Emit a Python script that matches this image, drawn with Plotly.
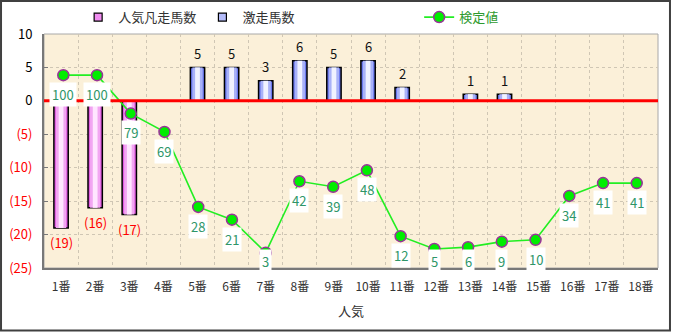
import plotly.graph_objects as go

categories = ["1番", "2番", "3番", "4番", "5番", "6番", "7番", "8番", "9番",
              "10番", "11番", "12番", "13番", "14番", "15番", "16番", "17番", "18番"]
popular_fail = [19, 16, 17, 0, 0, 0, 0, 0, 0, 0, 0, 0, 0, 0, 0, 0, 0, 0]
upset_count = [0, 0, 0, 0, 5, 5, 3, 6, 5, 6, 2, 0, 1, 1, 0, 0, 0, 0]
test_value = [100, 100, 79, 69, 28, 21, 3, 42, 39, 48, 12, 5, 6, 9, 10, 34, 41, 41]
ytick_vals = [10, 5, 0, -5, -10, -15, -20, -25]
ytick_text = ["10", "5", "0", "(5)", "(10)", "(15)", "(20)", "(25)"]

FONT = "Noto Sans CJK JP"
xs = list(range(1, len(categories) + 1))
neg_fail = [-v for v in popular_fail]

fig = go.Figure()

# pink bars (with gradient imitation)
for w, c, lw in [(0.42, "#E25CE2", 1.5), (0.30, "#F2A6F2", 0), (0.14, "#FFE6FF", 0)]:
    fig.add_trace(go.Bar(
        x=xs, y=neg_fail, width=w, name="人気凡走馬数",
        marker=dict(color=c, line=dict(color="#000000", width=lw)),
        showlegend=False, hoverinfo="skip" if lw == 0 else None))
# blue bars
for w, c, lw in [(0.42, "#6A78EE", 1.5), (0.30, "#A9B2F8", 0), (0.14, "#F0F2FF", 0)]:
    fig.add_trace(go.Bar(
        x=xs, y=upset_count, width=w, name="激走馬数",
        marker=dict(color=c, line=dict(color="#000000", width=lw)),
        showlegend=False, hoverinfo="skip" if lw == 0 else None))

# legend entries with small square symbols
fig.add_trace(go.Scatter(x=[None], y=[None], mode="markers", name="人気凡走馬数",
                         marker=dict(symbol="square", size=8, color="#F08CF0",
                                     line=dict(color="#000000", width=1.2)),
                         legend="legend"))
fig.add_trace(go.Scatter(x=[None], y=[None], mode="markers", name="激走馬数",
                         marker=dict(symbol="square", size=8, color="#B4BCFA",
                                     line=dict(color="#000000", width=1.2)),
                         legend="legend2"))

fig.add_trace(go.Scatter(
    x=xs, y=test_value, name="<span style='color:#2E9A2E'>検定値</span>",
    mode="lines+markers", xaxis="x2", yaxis="y2",
    line=dict(color="#22EE22", width=1.6),
    marker=dict(color="#00EE00", size=11, line=dict(color="#993399", width=1.5)),
    legend="legend3", cliponaxis=False))

annotations = []
for x, v in zip(xs, upset_count):
    if v:
        annotations.append(dict(x=x, y=v, xref="x", yref="y", text=str(v), showarrow=False,
                                yshift=14, font=dict(family=FONT, size=13, color="#111111")))
for x, v in zip(xs, popular_fail):
    if v:
        annotations.append(dict(x=x, y=-v, xref="x", yref="y", text=f"({v})", showarrow=False,
                                yshift=-15, font=dict(family=FONT, size=13, color="#FF0000")))
for x, v in zip(xs, test_value):
    ly = max(v - 10.6, -1.7)
    annotations.append(dict(x=x, y=ly, xref="x2", yref="y2", text=str(v), showarrow=False,
                            bgcolor="#FFFFFF", borderpad=2,
                            font=dict(family=FONT, size=13, color="#2E9668")))

shapes = [
    dict(type="line", xref="paper", yref="y", x0=0, x1=1, y0=0, y1=0,
         line=dict(color="#FF0000", width=3), layer="above"),
    dict(type="rect", xref="paper", yref="paper", x0=0, x1=1, y0=0, y1=1,
         line=dict(color="#A8A8A8", width=1), layer="below"),
    dict(type="rect", xref="paper", yref="paper", x0=-0.0700, x1=1.0195, y0=-0.267, y1=1.141,
         line=dict(color="#404040", width=2)),
]

fig.update_layout(
    width=673, height=332,
    margin=dict(l=44, r=15, t=34, b=64, autoexpand=False),
    barmode="overlay",
    paper_bgcolor="#FFFFFF", plot_bgcolor="#FBF0D9",
    font=dict(family=FONT, size=12, color="#333333"),
    annotations=annotations, shapes=shapes,
    xaxis=dict(range=[0.5, 18.5], tickmode="array", tickvals=xs, ticktext=categories,
               showgrid=False, showline=True, linecolor="#787878", linewidth=2,
               ticks="outside", ticklen=7, tickcolor="rgba(0,0,0,0)",
               tickfont=dict(family=FONT, size=12, color="#333333"),
               title=dict(text="人気", font=dict(family=FONT, size=13, color="#333333"), standoff=13),
               minor=dict(tickmode="array", tickvals=[i + 0.5 for i in xs[:-1]], showgrid=True,
                          gridcolor="#CFC6B4", griddash="dot", gridwidth=1),
               zeroline=False, automargin=False),
    xaxis2=dict(overlaying="x", range=[0.428, 18.63], visible=False),
    yaxis=dict(range=[-25, 10], tickmode="array", tickvals=ytick_vals,
               ticktext=[f"<span style='color:{'#FF0000' if v < 0 else '#000000'}'>{t}</span>"
                         for v, t in zip(ytick_vals, ytick_text)],
               tickfont=dict(family=FONT, size=13),
               showgrid=True, gridcolor="#CFC6B4", griddash="dot", gridwidth=1,
               showline=True, linecolor="#787878", linewidth=2,
               ticks="inside", ticklen=4, tickcolor="#787878",
               ticklabelstandoff=7, zeroline=False, automargin=False),
    yaxis2=dict(overlaying="y", range=[-5.4, 122.5], visible=False),
    legend=dict(x=0.0556, y=1.072, xanchor="left", yanchor="middle", orientation="h",
                bgcolor="rgba(0,0,0,0)", font=dict(family=FONT, size=13, color="#333333")),
    legend2=dict(x=0.258, y=1.072, xanchor="left", yanchor="middle", orientation="h",
                 bgcolor="rgba(0,0,0,0)", font=dict(family=FONT, size=13, color="#333333")),
    legend3=dict(x=0.611, y=1.072, xanchor="left", yanchor="middle", orientation="h",
                 bgcolor="rgba(0,0,0,0)", font=dict(family=FONT, size=13, color="#2E9A2E")),
)

fig.write_html("out.html")
